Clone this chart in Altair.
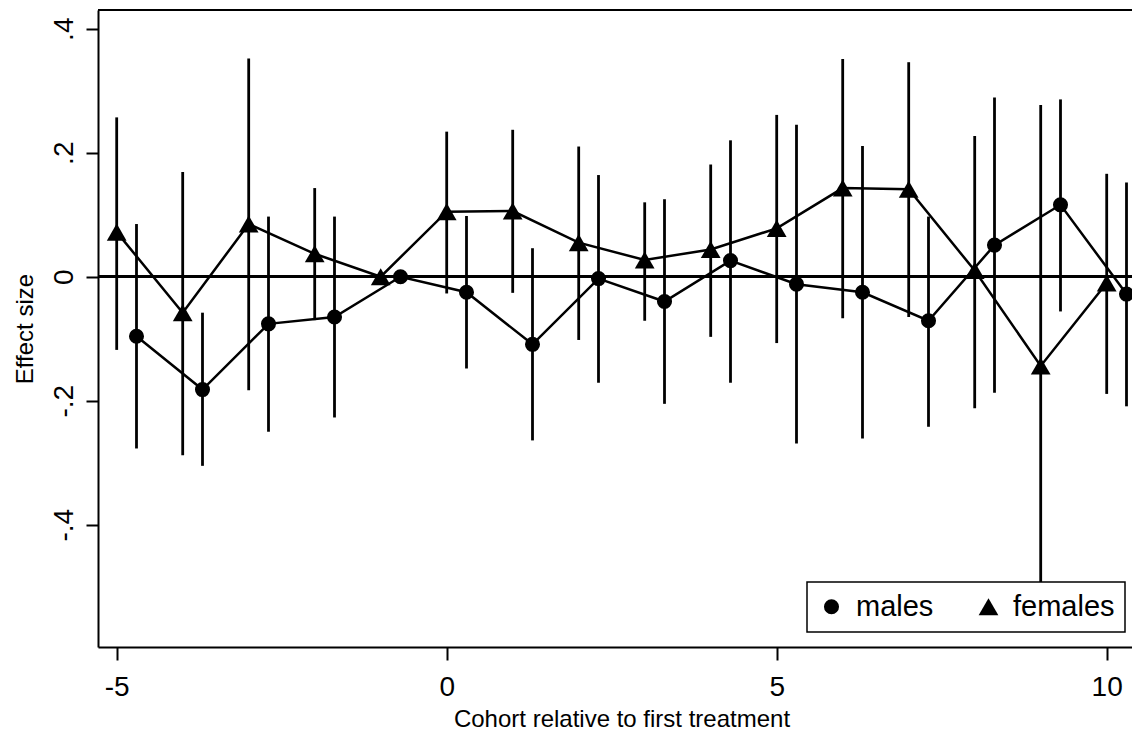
import altair as alt
import pandas as pd

# ---- data ----
female_x = [-5, -4, -3, -2, -1, 0, 1, 2, 3, 4, 5, 6, 7, 8, 9, 10]
female_y = [0.072, -0.058, 0.085, 0.037, 0.0, 0.105, 0.106, 0.055, 0.027, 0.044,
            0.078, 0.143, 0.141, 0.010, -0.144, -0.010]
female_lo = [-0.118, -0.288, -0.183, -0.070, 0.0, -0.027, -0.026, -0.102, -0.071, -0.097,
             -0.107, -0.067, -0.065, -0.212, -0.570, -0.189]
female_hi = [0.257, 0.169, 0.352, 0.143, 0.0, 0.234, 0.237, 0.210, 0.120, 0.181,
             0.261, 0.351, 0.346, 0.227, 0.277, 0.166]

male_x = [-4.7, -3.7, -2.7, -1.7, -0.7, 0.3, 1.3, 2.3, 3.3, 4.3,
          5.3, 6.3, 7.3, 8.3, 9.3, 10.3]
male_y = [-0.096, -0.182, -0.076, -0.065, 0.0, -0.025, -0.109, -0.003, -0.040, 0.026,
          -0.012, -0.025, -0.071, 0.051, 0.116, -0.028]
male_lo = [-0.277, -0.305, -0.250, -0.227, 0.0, -0.148, -0.264, -0.171, -0.205, -0.171,
           -0.269, -0.261, -0.242, -0.187, -0.056, -0.209]
male_hi = [0.085, -0.058, 0.097, 0.097, 0.0, 0.098, 0.046, 0.164, 0.125, 0.220,
           0.245, 0.211, 0.097, 0.289, 0.286, 0.152]

groups = ["males", "females"]
x_ticks = [-5, 0, 5, 10]
y_ticks = [-0.4, -0.2, 0, 0.2, 0.4]

rows = []
for x, y, lo, hi in zip(male_x, male_y, male_lo, male_hi):
    rows.append({"x": x, "y": y, "lo": lo, "hi": hi, "sex": "males"})
for x, y, lo, hi in zip(female_x, female_y, female_lo, female_hi):
    rows.append({"x": x, "y": y, "lo": lo, "hi": hi, "sex": "females"})
df = pd.DataFrame(rows)

FONT = "Liberation Sans, Arial, sans-serif"
W, H = 1034, 637

xscale = alt.Scale(domain=[-5.2833, 10.3833], nice=False, zero=False)
yscale = alt.Scale(domain=[-0.5972, 0.4302], nice=False, zero=False)

xaxis = alt.Axis(
    values=x_ticks, labelExpr="'' + datum.value", tickSize=13, labelFontSize=28,
    labelBaseline="alphabetic", labelPadding=35, labelFlush=False,
    title="Cohort relative to first treatment", titleFontSize=24,
    titleBaseline="alphabetic", titleAlign="center", titleX=523.5, titleY=79,
)
yaxis = alt.Axis(
    values=y_ticks,
    labelExpr="datum.value == 0 ? '0' : (datum.value < 0 ? '-' : '') + '.' + round(abs(datum.value) * 10)",
    labelAngle=270, labelAlign="center", labelBaseline="alphabetic", labelPadding=14,
    tickSize=12, labelFontSize=28,
    title="Effect size", titleFontSize=24, titleAngle=270, titleAlign="center",
    titleBaseline="alphabetic", titleX=-66, titleY=318.5,
)

base = alt.Chart(df)
X = alt.X("x:Q", scale=xscale, axis=xaxis)

bars = base.mark_rule(color="black", strokeWidth=2.8).encode(
    x=X, y=alt.Y("lo:Q", scale=yscale, axis=yaxis), y2="hi:Q"
)
lines = base.mark_line(color="black", strokeWidth=2.5).encode(
    x="x:Q", y="y:Q", detail="sex:N"
)
leg = alt.Legend(orient="none", legendX=709, legendY=572, direction="horizontal", title=None)
points = base.mark_point(filled=True, color="black", opacity=1).encode(
    x="x:Q", y="y:Q",
    shape=alt.Shape("sex:N", scale=alt.Scale(domain=groups, range=["circle", "triangle-up"]),
                    legend=leg),
    size=alt.Size("sex:N", scale=alt.Scale(domain=groups, range=[227, 390]), legend=leg),
)
zero = alt.Chart(df).mark_rule(color="black", strokeWidth=2.3).encode(y=alt.datum(0))
top = alt.Chart(df).mark_rule(color="black", strokeWidth=2).encode(
    x=alt.value(0), x2=alt.value(W), y=alt.value(0)
)

chart = alt.layer(bars, zero, lines, points, top).properties(
    width=W, height=H,
    autosize=alt.AutoSizeParams(type="none"),
    padding={"left": 90, "top": 2, "right": 0, "bottom": 83},
).configure_view(strokeWidth=0).configure_axis(
    grid=False, domainColor="black", domainWidth=2, tickColor="black", tickWidth=2,
    labelColor="black", titleColor="black", labelFont=FONT, titleFont=FONT,
    titleFontWeight="normal",
).configure_legend(
    strokeColor="black", strokeWidth=1.5, fillColor="white", padding=10,
    labelFont=FONT, labelFontSize=29, labelColor="black", labelOffset=10,
    columnPadding=40, symbolFillColor="black", symbolStrokeColor="black",
    symbolStrokeWidth=0, symbolOpacity=1,
)

chart.save("out.html", embed_options={"renderer": "svg", "actions": False})
